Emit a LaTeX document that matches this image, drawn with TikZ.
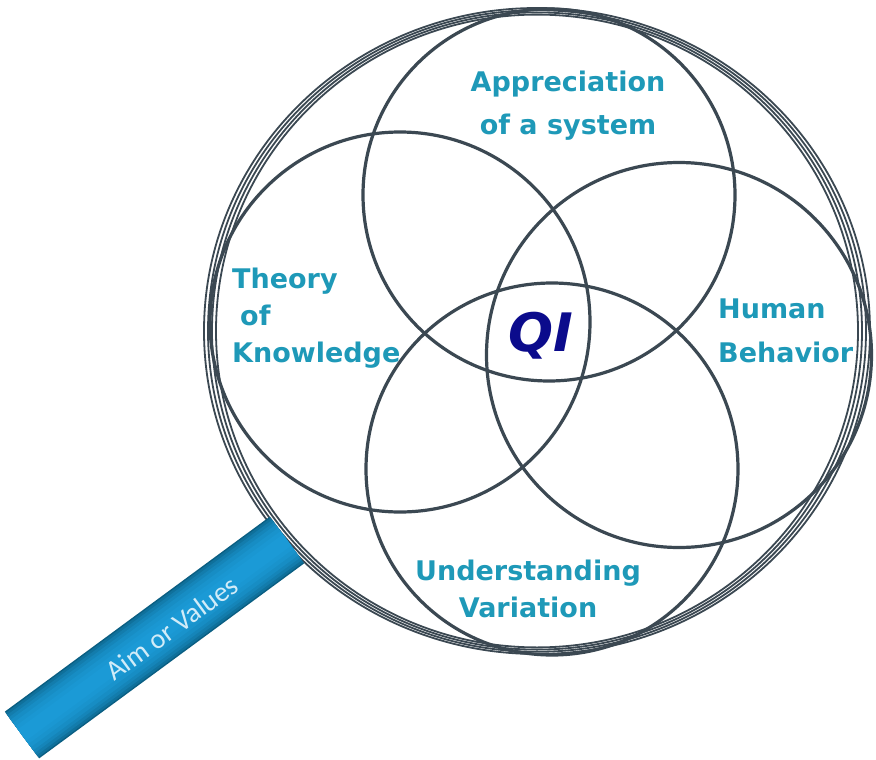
\documentclass[tikz,border=0pt]{standalone}
\usepackage{fontspec}
\setmainfont{DejaVu Sans}
\newfontfamily\calibfont{Carlito}
\definecolor{ringgray}{HTML}{3B4852}
\definecolor{labelteal}{HTML}{1E99B8}
\definecolor{qinavy}{HTML}{0B0B8C}
\definecolor{bardark}{HTML}{0A5E82}
\definecolor{barlight}{HTML}{1B9AD6}
\definecolor{bartext}{HTML}{D2ECF8}
\begin{document}
\begin{tikzpicture}[x=1pt,y=-1pt,
  venn/.style={circle, draw=ringgray, line width=3.2pt, minimum size=#1, inner sep=0pt},
  lbl/.style={text=labelteal, font=\bfseries\fontsize{27}{32}\selectfont, inner sep=0pt},
  ringline/.style={draw=ringgray, line width=1.8pt},
]
\useasboundingbox (0,0) rectangle (876,760);
\fill[white] (0,0) rectangle (876,760);

% outer lens ring
\foreach \i in {0,1,2,3}{
  \pgfmathsetmacro{\rx}{333-4.0*\i}
  \pgfmathsetmacro{\ry}{323-2.2*\i}
  \draw[ringline] (537,331) ellipse [x radius=\rx, y radius=\ry];
}

% four overlapping circles
\node[venn=372pt] (appr) at (549,195) {};
\node[venn=380pt] (theo) at (400,322) {};
\node[venn=385pt] (human) at (679,355) {};
\node[venn=372pt] (under) at (552,469) {};

% handle
\coordinate (h1) at (22,735);
\coordinate (h2) at (287,540);
\foreach \w/\c in {58/0,55/30,50/50,44/65,38/78,30/88,22/95,14/100}{
  \draw[line width=\w pt, barlight!\c!bardark] (h1) -- (h2);
}
\node[rotate=36.35, text=bartext, font=\calibfont\fontsize{28}{28}\selectfont, inner sep=0pt] (aim) at (172,628) {Aim or Values};

% labels
\node[lbl, anchor=base] (appr1) at (568,92) {Appreciation};
\node[lbl, anchor=base] (appr2) at (568,135) {of a system};
\node[lbl, anchor=base west] (theo1) at (232,288) {Theory};
\node[lbl, anchor=base west] (theo2) at (240,325) {of};
\node[lbl, anchor=base west] (theo3) at (232,362) {Knowledge};
\node[lbl, anchor=base west] (hum1) at (718,318) {Human};
\node[lbl, anchor=base west] (hum2) at (718,362) {Behavior};
\node[lbl, anchor=base] (und1) at (528,580) {Understanding};
\node[lbl, anchor=base] (und2) at (528,617) {Variation};
\node[text=qinavy, font=\bfseries\itshape\fontsize{53}{53}\selectfont, inner sep=0pt, anchor=base] (qi) at (541,351) {QI};
\end{tikzpicture}
\end{document}
